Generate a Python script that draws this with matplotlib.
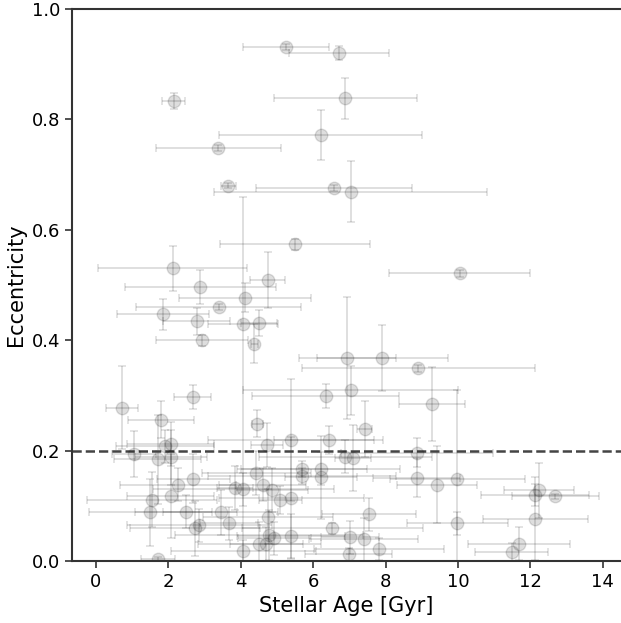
import numpy as np
import matplotlib
matplotlib.use("Agg")
import matplotlib.pyplot as plt

# stellar age [Gyr] and its error
age = [5.25, 6.71, 2.15, 6.89, 6.21, 3.38, 3.66, 6.58, 7.03, 5.50,
       10.05, 2.12, 4.74, 2.88, 4.12, 3.39, 1.85, 2.78, 4.07, 4.51,
       2.93, 4.37, 6.94, 7.91, 8.90, 9.29, 0.72, 2.67, 1.79, 6.34,
       7.03, 7.42, 8.87, 4.46, 4.72, 5.39, 6.43, 6.89, 7.09, 8.86,
       9.41, 9.98, 9.98, 5.69, 5.69, 6.21, 6.21, 4.43, 4.60, 3.83,
       4.07, 4.87, 5.09, 5.39, 3.44, 4.75, 3.68, 6.53, 4.77, 4.93,
       5.39, 4.51, 4.71, 4.07, 7.53, 7.01, 7.39, 7.82, 6.98, 12.23,
       12.13, 12.69, 12.13, 11.68, 11.48, 1.05, 1.91, 2.06, 1.71, 2.08,
       2.69, 2.26, 1.54, 2.06, 1.50, 2.49, 2.85, 2.74, 1.71]
age_err = [1.20, 1.37, 0.32, 1.97, 2.80, 1.72, 0.22, 2.15, 3.78, 2.07,
           1.95, 2.06, 0.49, 2.08, 1.83, 2.27, 1.27, 0.93, 0.97, 0.50,
           1.28, 0.10, 1.34, 1.80, 3.22, 0.91, 0.44, 0.52, 0.91, 2.04,
           2.98, 0.20, 2.10, 0.15, 0.45, 2.30, 1.50, 2.40, 0.50, 1.20,
           1.10, 1.87, 1.40, 1.80, 2.60, 2.20, 1.00, 1.50, 1.20, 0.50,
           2.50, 1.00, 0.60, 2.00, 1.60, 1.80, 0.80, 2.50, 2.60, 1.00,
           1.50, 1.70, 1.00, 2.00, 1.30, 0.80, 1.50, 1.80, 1.20, 0.97,
           1.50, 1.20, 1.45, 1.40, 1.00, 0.60, 1.35, 1.20, 1.20, 1.00,
           1.00, 1.60, 1.80, 1.20, 1.70, 1.40, 2.00, 1.80, 0.47]

# eccentricity with lower / upper errors
ecc = [0.931, 0.920, 0.833, 0.838, 0.772, 0.748, 0.680, 0.676, 0.669, 0.574,
       0.521, 0.530, 0.509, 0.496, 0.477, 0.460, 0.447, 0.434, 0.430, 0.431,
       0.400, 0.394, 0.368, 0.368, 0.349, 0.285, 0.278, 0.297, 0.256, 0.299,
       0.309, 0.239, 0.196, 0.249, 0.210, 0.219, 0.219, 0.189, 0.187, 0.151,
       0.138, 0.149, 0.068, 0.167, 0.154, 0.167, 0.152, 0.159, 0.138, 0.132,
       0.130, 0.129, 0.110, 0.114, 0.088, 0.080, 0.068, 0.059, 0.047, 0.041,
       0.045, 0.031, 0.031, 0.019, 0.085, 0.043, 0.039, 0.022, 0.012, 0.128,
       0.120, 0.117, 0.077, 0.031, 0.016, 0.194, 0.208, 0.212, 0.184, 0.188,
       0.149, 0.138, 0.111, 0.118, 0.088, 0.089, 0.065, 0.059, 0.004]
ecc_lo = [0.005, 0.013, 0.014, 0.037, 0.045, 0.005, 0.005, 0.005, 0.055, 0.010,
          0.006, 0.040, 0.050, 0.031, 0.026, 0.006, 0.028, 0.024, 0.430, 0.024,
          0.010, 0.036, 0.110, 0.060, 0.006, 0.067, 0.075, 0.021, 0.033, 0.022,
          0.045, 0.050, 0.026, 0.025, 0.040, 0.110, 0.025, 0.030, 0.060, 0.035,
          0.070, 0.149, 0.020, 0.015, 0.015, 0.030, 0.075, 0.040, 0.030, 0.040,
          0.030, 0.040, 0.025, 0.110, 0.040, 0.050, 0.030, 0.010, 0.045, 0.030,
          0.040, 0.040, 0.031, 0.019, 0.030, 0.030, 0.039, 0.020, 0.012, 0.050,
          0.020, 0.005, 0.075, 0.030, 0.016, 0.042, 0.030, 0.040, 0.080, 0.050,
          0.044, 0.030, 0.050, 0.076, 0.060, 0.030, 0.030, 0.050, 0.004]
ecc_hi = [0.005, 0.013, 0.014, 0.037, 0.045, 0.005, 0.005, 0.005, 0.055, 0.010,
          0.006, 0.040, 0.050, 0.031, 0.026, 0.006, 0.028, 0.024, 0.230, 0.024,
          0.010, 0.036, 0.110, 0.060, 0.006, 0.067, 0.075, 0.021, 0.033, 0.022,
          0.045, 0.050, 0.026, 0.025, 0.040, 0.110, 0.025, 0.030, 0.060, 0.035,
          0.070, 0.160, 0.020, 0.015, 0.015, 0.030, 0.075, 0.040, 0.030, 0.040,
          0.030, 0.040, 0.025, 0.110, 0.040, 0.050, 0.030, 0.010, 0.045, 0.030,
          0.040, 0.040, 0.031, 0.019, 0.030, 0.030, 0.039, 0.020, 0.012, 0.050,
          0.020, 0.005, 0.075, 0.030, 0.016, 0.042, 0.030, 0.040, 0.080, 0.050,
          0.044, 0.030, 0.050, 0.076, 0.060, 0.030, 0.030, 0.050, 0.004]

fig = plt.figure(figsize=(6.21, 6.23), dpi=100)
ax = fig.add_axes([0.116, 0.0995, 0.884, 0.886])

ax.errorbar(age, ecc, xerr=age_err, yerr=[ecc_lo, ecc_hi], fmt='o',
            color='k', alpha=0.13, ms=9, capsize=3, elinewidth=1.4, capthick=1.2)
ax.axhline(0.2, color='#444444', ls='--', lw=1.8)

ax.set_xlim(-0.66, 14.5)
ax.set_ylim(0, 1)
ax.set_xticks([0, 2, 4, 6, 8, 10, 12, 14])
ax.set_yticks([0.0, 0.2, 0.4, 0.6, 0.8, 1.0])
ax.spines['right'].set_visible(False)
for s in ['left', 'bottom', 'top']:
    ax.spines[s].set_color('#333333')
    ax.spines[s].set_linewidth(1.5)
ax.tick_params(labelsize=13, width=1.2, length=5, color='#333333')
ax.set_xlabel('Stellar Age [Gyr]', fontsize=15)
ax.set_ylabel('Eccentricity', fontsize=15)

fig.savefig('out.png', dpi=100)
